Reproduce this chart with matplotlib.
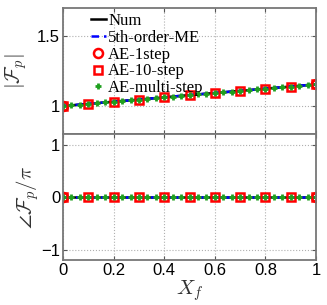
import numpy as np
import matplotlib
matplotlib.use("Agg")
import matplotlib.pyplot as plt

plt.rcParams['font.family'] = ['Liberation Sans', 'DejaVu Sans']
plt.rcParams['mathtext.fontset'] = 'cm'

# data
x_line = [0.0, 0.1, 0.2, 0.3, 0.4, 0.5, 0.6, 0.7, 0.8, 0.9, 1.0]
mag_num = [1.000, 1.015, 1.031, 1.046, 1.062, 1.078, 1.093, 1.108, 1.124, 1.139, 1.155]
mag_me = [1.000, 1.015, 1.031, 1.046, 1.062, 1.078, 1.093, 1.108, 1.124, 1.139, 1.155]

x_1step = [0.0, 1.0]
mag_1step = [1.000, 1.155]

x_10step = [0.0, 0.1, 0.2, 0.3, 0.4, 0.5, 0.6, 0.7, 0.8, 0.9, 1.0]
mag_10step = [1.000, 1.015, 1.031, 1.046, 1.062, 1.078, 1.093, 1.108, 1.124, 1.139, 1.155]

x_multi = list(np.linspace(0, 1, 31))
mag_multi = [1.000, 1.005, 1.010, 1.015, 1.021, 1.026, 1.031, 1.036, 1.041, 1.046,
             1.052, 1.057, 1.062, 1.067, 1.072, 1.078, 1.083, 1.088, 1.093, 1.098,
             1.103, 1.108, 1.114, 1.119, 1.124, 1.129, 1.134, 1.139, 1.145, 1.150, 1.155]

ph_num = [0.0] * 11
ph_me = [0.0] * 11
ph_1step = [0.0] * 2
ph_10step = [0.0] * 11
ph_multi = [0.0] * 31

xticks = [0, 0.2, 0.4, 0.6, 0.8, 1]

fig = plt.figure(figsize=(3.27, 3.05), dpi=100)
ax1 = fig.add_axes([0.1927, 0.5607, 0.774, 0.413])
ax2 = fig.add_axes([0.1927, 0.1475, 0.774, 0.413])


def draw(ax, yn, ym, y1, y10, ymul):
    ax.plot(x_line, yn, '-', color='black', lw=1.8, label='Num')
    ax.plot(x_line, ym, '--', color='blue', lw=1.8, dashes=(3, 2), label='5th-order-ME')
    ax.plot(x_1step, y1, 'o', ls='none', mfc='none', mec='red', mew=1.8, ms=6.5, label='AE-1step')
    ax.plot(x_10step, y10, 's', ls='none', mfc='none', mec='red', mew=1.8, ms=5.5, label='AE-10-step')
    ax.plot(x_multi, ymul, '+', ls='none', color='#1fa01f', mew=2.0, ms=5, label='AE-multi-step')
    ax.set_xlim(0, 1)
    ax.set_xticks(xticks)
    ax.grid(True, ls=':', color='#b0b0b0', lw=0.8)
    ax.tick_params(direction='in', top=True, right=True, labelsize=12, length=3,
                   color='#555555', pad=2)
    for s in ax.spines.values():
        s.set_color('#777777')
        s.set_linewidth(1.3)


draw(ax1, mag_num, mag_me, mag_1step, mag_10step, mag_multi)
ax1.set_ylim(0.8, 1.7)
ax1.set_yticks([1, 1.5])
ax1.set_yticklabels(['1', '1.5'])
ax1.set_xticklabels([])
ax1.set_ylabel(r'$|\mathcal{F}_p|$', fontsize=15, color='#333333', labelpad=6)
ax1.legend(loc='upper left', bbox_to_anchor=(0.07, 1.04), frameon=False,
           prop={'family': 'Liberation Serif', 'size': 12}, handlelength=0.9,
           handletextpad=0.15, labelspacing=0.05, borderaxespad=0.2)

draw(ax2, ph_num, ph_me, ph_1step, ph_10step, ph_multi)
ax2.set_ylim(-1.2, 1.2)
ax2.set_yticks([-1, 0, 1])
ax2.set_yticklabels(['\u22121', '0', '1'])
ax2.set_xticklabels(['0', '0.2', '0.4', '0.6', '0.8', '1'])
ax2.set_ylabel(r'$\angle\mathcal{F}_p/\pi$', fontsize=15, color='#333333', labelpad=0)
ax2.set_xlabel(r'$X_f$', fontsize=15, color='#333333', labelpad=0)

fig.savefig('out.png', dpi=100)
